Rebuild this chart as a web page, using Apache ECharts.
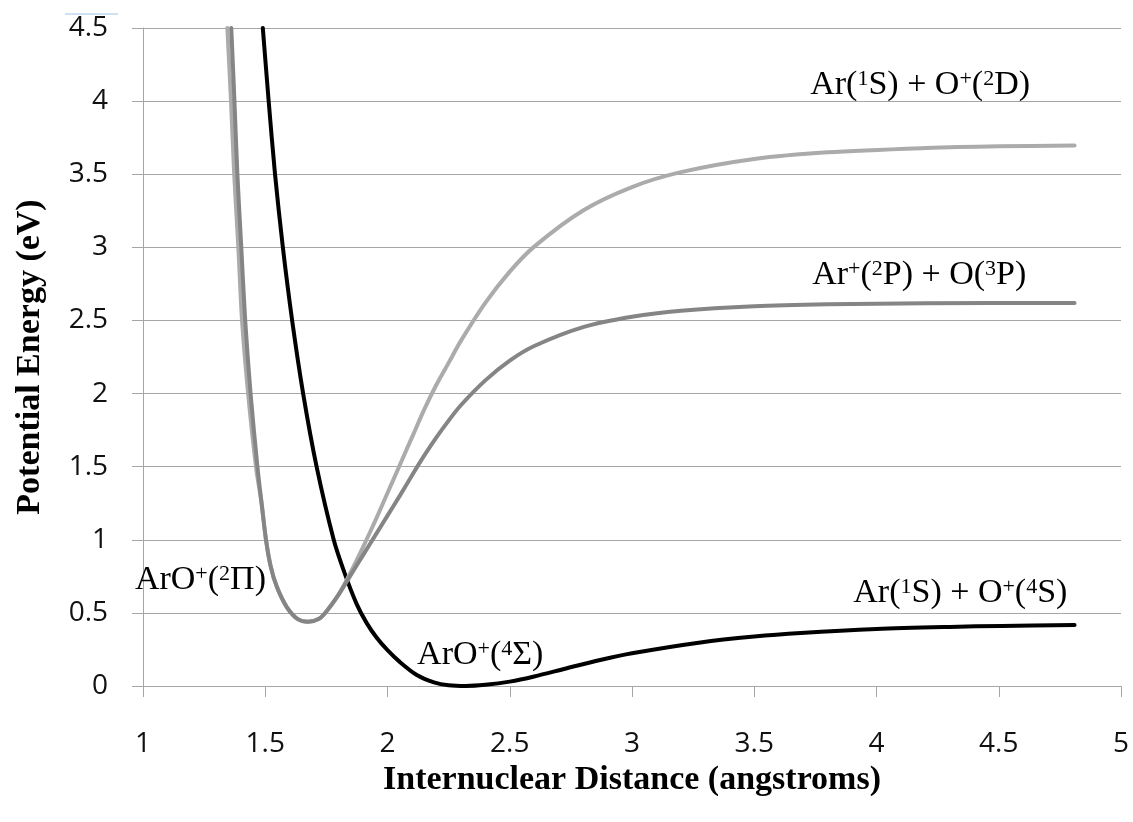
<!DOCTYPE html>
<html><head><meta charset="utf-8">
<script src="https://cdn.jsdelivr.net/npm/echarts@6/dist/echarts.min.js"></script>
<style>html,body{margin:0;padding:0;background:#fff}#c{width:1133px;height:822px}</style>
</head><body><div id="c"></div>
<script>
// Ar(1S) + O+(4S)  — ArO+(4Σ) state (black)
const blackX = [1.49,1.514,1.54,1.572,1.61,1.655,1.71,1.78,1.825,1.874,1.915,1.956,2.0,2.05,2.12,2.19,2.25,2.32,2.4,2.5,2.6,2.73,2.87,3.0,3.28,3.5,3.69,4.0,4.3,4.51,4.81];
const blackY = [4.5,4.0,3.5,3.0,2.5,2.0,1.5,1.0,0.77,0.56,0.43,0.33,0.245,0.165,0.075,0.025,0.005,0.0,0.008,0.03,0.065,0.12,0.178,0.224,0.298,0.338,0.362,0.389,0.404,0.411,0.417];
// Ar+(2P) + O(3P) — ArO+(2Π) state (dark grey)
const darkX = [1.361,1.374,1.386,1.402,1.418,1.44,1.468,1.485,1.503,1.522,1.547,1.588,1.635,1.676,1.72,1.75,1.8,1.85,1.9,1.95,2.0,2.05,2.1,2.15,2.2,2.25,2.3,2.4,2.5,2.6,2.8,3.0,3.2,3.5,3.8,4.2,4.81];
const darkY = [4.5,4.0,3.5,3.0,2.5,2.0,1.5,1.25,1.0,0.82,0.68,0.54,0.455,0.44,0.46,0.51,0.625,0.76,0.895,1.03,1.165,1.30,1.44,1.575,1.70,1.815,1.92,2.09,2.225,2.325,2.454,2.525,2.566,2.597,2.61,2.617,2.62];
// Ar(1S) + O+(2D) (light grey)
const lightX = [1.345,1.36,1.373,1.39,1.405,1.43,1.462,1.485,1.503,1.522,1.547,1.588,1.635,1.676,1.72,1.75,1.8,1.85,1.9,1.95,2.0,2.05,2.1,2.15,2.2,2.25,2.3,2.4,2.5,2.6,2.8,3.0,3.2,3.5,3.8,4.2,4.5,4.81];
const lightY = [4.5,4.0,3.5,3.0,2.5,2.0,1.5,1.25,1.0,0.82,0.68,0.54,0.455,0.44,0.46,0.51,0.625,0.78,0.95,1.13,1.32,1.51,1.70,1.89,2.06,2.21,2.36,2.62,2.834,3.005,3.252,3.412,3.514,3.604,3.65,3.679,3.691,3.696];

// annotation texts (rich-text markup) and their anchor (left edge, middle) in data units
const annText = [
  '{n|Ar(}{s|1}{n|S) + O}{s|+}{n|(}{s|2}{n|D)}',
  '{n|Ar}{s|+}{n|(}{s|2}{n|P) + O(}{s|3}{n|P)}',
  '{n|Ar(}{s|1}{n|S) + O}{s|+}{n|(}{s|4}{n|S)}',
  '{n|ArO}{s|+}{n|(}{s|2}{n|Π)}',
  '{n|ArO}{s|+}{n|(}{s|4}{n|Σ)}'
];
const annX = [3.729, 3.737, 3.905, 0.967, 2.121];
const annY = [4.111, 2.811, 0.636, 0.725, 0.212];

const xTitle = 'Internuclear Distance (angstroms)';
const yTitle = 'Potential Energy (eV)';

function pairs(xs, ys){ return xs.map((x,i)=>[x, ys[i]]); }

const serif = '"Liberation Serif","Times New Roman",serif';
const sans = '"Open Sans","Noto Sans",sans-serif';
const gridCol = '#a6a6a6';

const option = {
  animation: false,
  backgroundColor: '#ffffff',
  grid: { left: 143, right: 12, top: 28, bottom: 136, containLabel: false },
  xAxis: {
    type: 'value', min: 1, max: 5, interval: 0.5,
    name: xTitle, nameLocation: 'middle', nameGap: 72,
    nameTextStyle: { fontFamily: serif, fontWeight: 'bold', fontSize: 34, color: '#000' },
    axisLine: { show: true, onZero: false, lineStyle: { color: gridCol, width: 1 } },
    axisTick: { show: true, inside: false, length: 11, lineStyle: { color: gridCol } },
    axisLabel: { fontFamily: sans, fontSize: 28, color: '#111', margin: 44 },
    splitLine: { show: false }
  },
  yAxis: {
    type: 'value', min: 0, max: 4.5, interval: 0.5,
    name: yTitle, nameLocation: 'middle', nameGap: 96, nameRotate: 90,
    nameTextStyle: { fontFamily: serif, fontWeight: 'bold', fontSize: 34, color: '#000' },
    axisLine: { show: true, lineStyle: { color: gridCol, width: 1 } },
    axisTick: { show: true, inside: false, length: 11, lineStyle: { color: gridCol } },
    axisLabel: { fontFamily: sans, fontSize: 28, color: '#111', margin: 35 },
    splitLine: { show: true, lineStyle: { color: gridCol, width: 1 } }
  },
  series: [
    { name: 'Ar(1S)+O+(4S)', type: 'line', data: pairs(blackX, blackY), smooth: 0.3, showSymbol: false, symbol: 'none',
      lineStyle: { color: '#000000', width: 4, cap: 'round', join: 'round' }, clip: true, z: 2 },
    { name: 'Ar(1S)+O+(2D)', type: 'line', data: pairs(lightX, lightY), smooth: 0.3, showSymbol: false, symbol: 'none',
      lineStyle: { color: '#ababab', width: 4, cap: 'round', join: 'round' }, clip: true, z: 3 },
    { name: 'Ar+(2P)+O(3P)', type: 'line', data: pairs(darkX, darkY), smooth: 0.3, showSymbol: false, symbol: 'none',
      lineStyle: { color: '#858585', width: 4, cap: 'round', join: 'round' }, clip: true, z: 4 }
  ]
};

const chart = echarts.init(document.getElementById('c'), null, { renderer: 'canvas' });
chart.setOption(option);

const rich = {
  n: { fontFamily: serif, fontSize: 34, fill: '#000', color: '#000', verticalAlign: 'bottom' },
  s: { fontFamily: serif, fontSize: 22, fill: '#000', color: '#000', verticalAlign: 'top' }
};
const graphics = annText.map((t, i) => {
  const p = chart.convertToPixel({ gridIndex: 0 }, [annX[i], annY[i]]);
  return { type: 'text', x: p[0], y: p[1], z: 100,
    style: { text: t, rich: rich, fontFamily: serif, fontSize: 34, fill: '#000', align: 'left', verticalAlign: 'middle' } };
});
graphics.push({ type: 'line', shape: { x1: 65, y1: 14, x2: 118, y2: 14 }, style: { stroke: '#9dc3e6', lineWidth: 1 } });
chart.setOption({ graphic: graphics });
</script>
</body></html>
